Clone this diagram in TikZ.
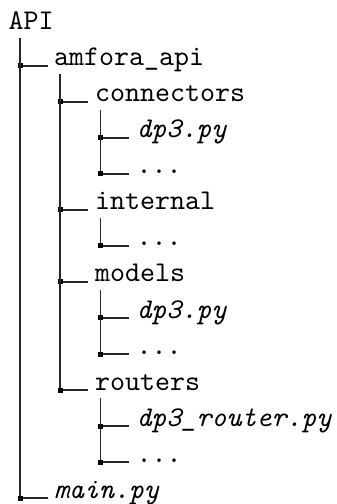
\documentclass[tikz,border=0pt]{standalone}
\usetikzlibrary{calc}
\begin{document}
\begin{tikzpicture}[x=0.35pt,y=-0.35pt,
  entry/.style={anchor=base west,inner sep=0pt,outer sep=0pt,
    font=\fontsize{10pt}{12pt}\selectfont\ttfamily},
  file/.style={entry,font=\fontsize{10pt}{12pt}\selectfont\ttfamily\itshape},
  tree/.style={line width=0.42pt,black!85},
  sq/.style={fill=black,inner sep=0pt,minimum size=1.75pt}]
\useasboundingbox (0,0) rectangle (336,504);
% rows are 36 units apart, baseline of the first row at y=30
\node[entry] (api)  at (8.5,30)   {API};
\node[entry] (amf)  at (54,66)    {amfora\_api};
\node[entry] (conn) at (95,102)   {connectors};
\node[file]  (c1)   at (136.5,138) {dp3.py};
\node[entry] (c2)   at (136.5,174) {...};
\node[entry] (int)  at (95,210)   {internal};
\node[entry] (i1)   at (136.5,246) {...};
\node[entry] (mod)  at (95,282)   {models};
\node[file]  (m1)   at (136.5,318) {dp3.py};
\node[entry] (m2)   at (136.5,354) {...};
\node[entry] (rout) at (95,390)   {routers};
\node[file]  (r1)   at (136.5,426) {dp3\_router.py};
\node[entry] (r2)   at (136.5,462) {...};
\node[file]  (main) at (54,498)   {main.py};
% branch: vertical line under the parent (at the given x), then a short
% horizontal stub towards the child, with a square at the corner
\newcommand\branch[3]{%
  \coordinate (t-#2) at (#3,0 |- #1.base);
  \draw[tree] ($(t-#2)+(0,8)$) |- ($(t-#2 |- #2.base)+(28,0)$);
  \node[sq] at (t-#2 |- #2.base) {};}
\branch{api}{amf}{20}
\branch{api}{main}{20}
\branch{amf}{conn}{60}
\branch{amf}{int}{60}
\branch{amf}{mod}{60}
\branch{amf}{rout}{60}
\branch{conn}{c1}{100.5}
\branch{conn}{c2}{100.5}
\branch{int}{i1}{100.5}
\branch{mod}{m1}{100.5}
\branch{mod}{m2}{100.5}
\branch{rout}{r1}{100.5}
\branch{rout}{r2}{100.5}
\end{tikzpicture}
\end{document}
